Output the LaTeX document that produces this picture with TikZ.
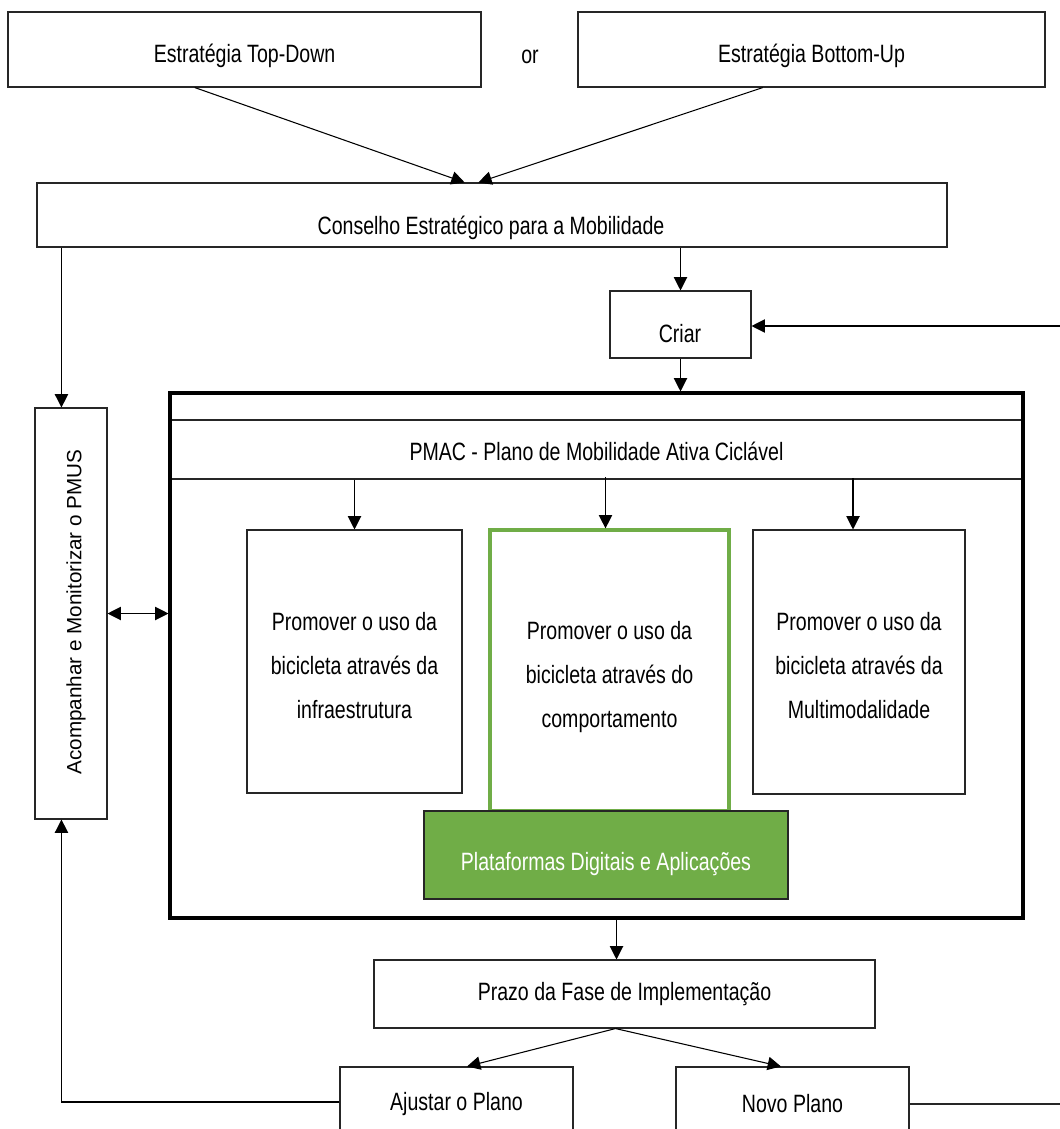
\documentclass[tikz,border=0pt]{standalone}
\usepackage{fontspec}
\setmainfont{Liberation Sans}[FakeStretch=0.78]
\newfontfamily\sidefont{Liberation Sans}
\usetikzlibrary{arrows.meta,calc}
\definecolor{leaf}{HTML}{70AD47}
\newcommand{\boxfont}{\fontsize{18.8}{33}\selectfont}
\begin{document}
\begin{tikzpicture}[x=0.75pt,y=-0.75pt,
  box/.style={draw=black!85, line width=0.8pt, inner sep=0pt},
  bigbox/.style={draw=black, line width=2.3pt, inner sep=0pt},
  txt/.style={font=\boxfont, inner sep=0pt, align=center},
  sidetxt/.style={font=\sidefont\fontsize{15.5}{18}\selectfont, inner sep=0pt},
  arr/.style={draw=black, line width=0.8pt, -{Triangle[length=10pt,width=10pt]}},
  dblarr/.style={draw=black, line width=0.8pt, {Triangle[length=10pt,width=10pt]}-{Triangle[length=10pt,width=10pt]}},
  plain/.style={draw=black!85, line width=0.8pt}]
\useasboundingbox (0,0) rectangle (1060,1129);
\fill[white] (0,0) rectangle (1060,1129);
\clip (0,0) rectangle (1060,1129);

% strategy boxes
\node[box, minimum width=354.75pt, minimum height=56.25pt] (td) at (244.5,49.5) {};
\node[txt] (tdt) at (244.5,56) {Estratégia Top-Down};
\node[box, minimum width=350.25pt, minimum height=56.25pt] (bu) at (811.5,49.5) {};
\node[txt] (but) at (811.5,56) {Estratégia Bottom-Up};
\node[txt] (or) at (530,57) {or};

% strategic council
\node[box, minimum width=682.5pt, minimum height=48pt] (cons) at (492,215) {};
\node[txt] (const) at (491,228) {Conselho Estratégico para a Mobilidade};

% create
\node[box, minimum width=105.75pt, minimum height=50.25pt] (crr) at (680.5,324.5) {};
\node[txt] (crrt) at (680,334) {Criar};

% PMAC frame
\node[box, minimum width=639.75pt, minimum height=44.25pt] (hdr) at (596.5,449.5) {};
\node[txt] (hdrt) at (596.5,451) {PMAC - Plano de Mobilidade Ativa Ciclável};
\node[bigbox, minimum width=639.75pt, minimum height=393.75pt] (big) at (596.5,655.5) {};

% monitoring column
\node[box, minimum width=54pt, minimum height=308.25pt] (acomp) at (71,613.5) {};
\node[sidetxt, rotate=90] (acompt) at (76,612) {Acompanhar e Monitorizar o PMUS};

% three strands
\node[box, minimum width=161.25pt, minimum height=197.25pt] (lb) at (354.5,661.5) {};
\node[txt] (lbt) at (354.5,666) {Promover o uso da\\bicicleta através da\\infraestrutura};
\node[draw=leaf, line width=2.4pt, inner sep=0pt, minimum width=179.25pt, minimum height=210.75pt] (mb) at (609.5,670.5) {};
\node[txt] (mbt) at (609.5,677) {Promover o uso da\\bicicleta através do\\comportamento};
\node[box, minimum width=159pt, minimum height=198pt] (rb) at (859,662) {};
\node[txt] (rbt) at (859,666) {Promover o uso da\\bicicleta através da\\Multimodalidade};

% digital platforms
\node[box, fill=leaf, minimum width=273pt, minimum height=66pt] (gb) at (606,855) {};
\node[txt, text=white] (gbt) at (606,864) {Plataformas Digitais e Aplicações};

% implementation
\node[box, minimum width=375.75pt, minimum height=51pt] (prazo) at (624.5,994) {};
\node[txt] (prazot) at (624.5,994) {Prazo da Fase de Implementação};
\node[box, minimum width=174.75pt, minimum height=58.5pt] (aj) at (456.5,1106) {};
\node[txt] (ajt) at (456.5,1104) {Ajustar o Plano};
\node[box, minimum width=174.75pt, minimum height=58.5pt] (novo) at (792.5,1106) {};
\node[txt] (novot) at (792.5,1104) {Novo Plano};

% loose ends at the right margin
\coordinate (rin) at (1060,326);
\coordinate (rout) at (1060,1104);

% connectors
\draw[arr] ($(td.south west)!0.395!(td.south east)$) -- ($(cons.north west)!0.47!(cons.north east)$);
\draw[arr] ($(bu.south west)!0.396!(bu.south east)$) -- ($(cons.north west)!0.485!(cons.north east)$);
\draw[arr] ($(cons.south west)+(25,0)$) coordinate (cl) -- (cl |- acomp.north);
\draw[arr] (cons.south -| crr.north) -- (crr.north);
\draw[arr] (rin) -- (rin -| crr.east);
\draw[arr] (crr.south) -- (crr.south |- big.north);
\draw[dblarr] (acomp.east) -- (acomp.east -| big.west);
\draw[arr] (lb.north |- hdr.south) -- (lb.north);
\draw[arr] ($(mb.north)+(-4,0)$) coordinate (mtop) ++(0,-51) -- (mtop);
\draw[arr] ($(rb.north)+(-6,0)$) coordinate (rtop) ++(0,-51) -- (rtop);
\draw[arr] ($(big.south)+(20,0)$) coordinate (bs) -- (bs |- prazo.north);
\draw[arr] ($(prazo.south)+(-9,0)$) coordinate (ps) -- ($(aj.north)+(10.5,0)$);
\draw[arr] (ps) -- ($(novo.north)+(-11.5,0)$);
\draw[arr] ($(aj.west)+(0,-4)$) coordinate (aw) -| (cl |- acomp.south);
\draw[plain] ($(novo.east)+(0,-2)$) coordinate (ne) -- (ne -| rout);
\end{tikzpicture}
\end{document}
